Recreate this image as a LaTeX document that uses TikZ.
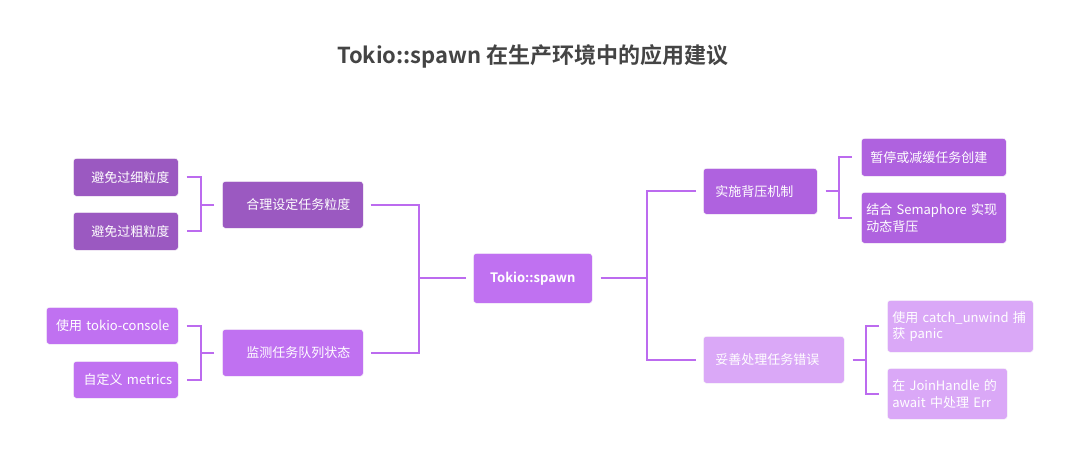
\documentclass[tikz,border=0pt]{standalone}
\usepackage{fontspec}
\setmainfont{Noto Sans CJK SC}[BoldFont=* Bold]
\definecolor{grape}{HTML}{9B59C1}
\definecolor{violet}{HTML}{C071F1}
\definecolor{orchid}{HTML}{AF62DF}
\definecolor{lilac}{HTML}{DAA8F7}
\definecolor{linkcol}{HTML}{BC6BEF}
\definecolor{titlecol}{HTML}{444444}
\begin{document}
\begin{tikzpicture}[x=1pt, y=-1pt,
    box/.style={rectangle, rounded corners=3pt, draw=white!80!black!10, line width=0.6pt,
        text=white, inner xsep=9pt, inner ysep=0pt, anchor=north west,
        font=\fontsize{13}{16.5}\selectfont},
    leafL/.style={box, align=right},
    leafR/.style={box, align=left},
    link/.style={draw=linkcol, line width=2pt}]
    \useasboundingbox (0,0) rectangle (1070,451);
    \node[font=\fontsize{22}{26}\selectfont\bfseries, text=titlecol] (title) at (533,56) {Tokio::spawn 在生产环境中的应用建议};
    % left branch
    \node[leafL, fill=grape, text width=87, minimum height=38] (fine) at (73,158) {避免过细粒度};
    \node[leafL, fill=grape, text width=87, minimum height=38] (coarse) at (73,212) {避免过粗粒度};
    \node[leafL, fill=grape, minimum height=47, inner xsep=13pt, text width=115] (gran) at (222,181) {合理设定任务粒度};
    \node[leafL, fill=violet, text width=114, minimum height=37] (console) at (46,307) {使用 tokio-console};
    \node[leafL, fill=violet, inner xsep=6pt, text width=93, minimum height=37] (metrics) at (73,361) {自定义 metrics};
    \node[leafL, fill=violet, minimum height=47, inner xsep=13pt, text width=115] (monitor) at (222,329) {监测任务队列状态};
    % root
    \node[box, fill=violet, align=center, text width=101, minimum height=50, font=\fontsize{13}{16.5}\selectfont\bfseries] (spawn) at (473,253) {Tokio::spawn};
    % right branch
    \node[leafR, fill=orchid, inner xsep=12pt, text width=90, minimum height=46] (back) at (703,168) {实施背压机制};
    \node[leafR, fill=orchid, text width=127, minimum height=38] (pause) at (861,138) {暂停或减缓任务创建};
    \node[leafR, fill=orchid, inner xsep=5pt, text width=135, minimum height=51] (sema) at (861,192) {结合 Semaphore 实现\\动态背压};
    \node[leafR, fill=lilac, inner xsep=12pt, text width=117, minimum height=47] (err) at (703,336) {妥善处理任务错误};
    \node[leafR, fill=lilac, inner xsep=5pt, text width=136, minimum height=52] (unwind) at (887,300) {使用 catch\_unwind 捕\\获 panic};
    \node[leafR, fill=lilac, inner xsep=5pt, text width=110, minimum height=51] (join) at (887,368) {在 JoinHandle 的\\await 中处理 Err};
    % connectors
    \draw[link] ([xshift=8]fine.east) -- ++(14,0) |- ([xshift=8]coarse.east);
    \draw[link] ([xshift=-8]gran.west) -- ++(-14,0);
    \draw[link] ([xshift=8]console.east) -- ++(14,0) |- ([xshift=8]metrics.east);
    \draw[link] ([xshift=-8]monitor.west) -- ++(-14,0);
    \draw[link] ([xshift=7]gran.east) -- ++(48,0) |- ([xshift=7]monitor.east);
    \draw[link] ([xshift=-7]spawn.west) -- ++(-48,0);
    \draw[link] ([xshift=8]spawn.east) -- ++(47,0);
    \draw[link] ([xshift=-7]back.west) -- ++(-49,0) |- ([xshift=-7]err.west);
    \draw[link] ([xshift=8]back.east) -- ++(14,0);
    \draw[link] ([xshift=-9]pause.west) -- ++(-13,0) |- ([xshift=-9]sema.west);
    \draw[link] ([xshift=8]err.east) -- ++(14,0);
    \draw[link] ([xshift=-8]unwind.west) -- ++(-13,0) |- ([xshift=-8]join.west);
\end{tikzpicture}
\end{document}
